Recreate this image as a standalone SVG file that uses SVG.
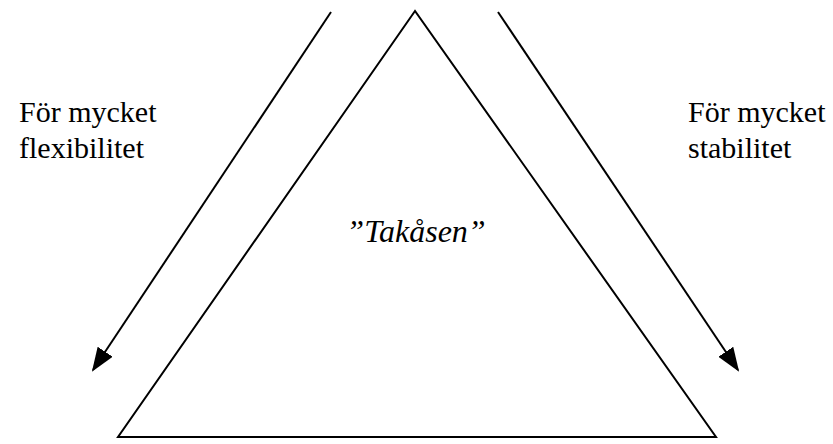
<svg xmlns="http://www.w3.org/2000/svg" width="833" height="444" viewBox="0 0 833 444">
<style>
.ln{stroke:#000;stroke-width:2;fill:none}
.t{font-family:"Liberation Serif","Times New Roman",serif;font-size:30px;fill:#000}
.i{font-style:italic;font-size:32px}
</style>
<defs>
<marker id="ah" viewBox="0 0 24 18" refX="22" refY="9" markerWidth="24" markerHeight="18" markerUnits="userSpaceOnUse" orient="auto">
<path d="M0,0 L24,9 L0,18 z" fill="#000"/>
</marker>
</defs>
<rect width="833" height="444" fill="#fff"/>
<g id="triangle">
<path class="ln" d="M415,11 L118,437 L716,437 Z"/>
<text class="t i" x="416" y="242" text-anchor="middle">”Takåsen”</text>
</g>
<g id="left-label">
<text class="t" x="19" y="122">För mycket</text>
<text class="t" x="19" y="158">flexibilitet</text>
</g>
<g id="right-label">
<text class="t" x="688" y="122">För mycket</text>
<text class="t" x="688" y="158">stabilitet</text>
</g>
<g id="connectors">
<line class="ln" x1="331" y1="12" x2="93" y2="370" marker-end="url(#ah)"/>
<line class="ln" x1="498" y1="12" x2="738" y2="370" marker-end="url(#ah)"/>
</g>
</svg>
